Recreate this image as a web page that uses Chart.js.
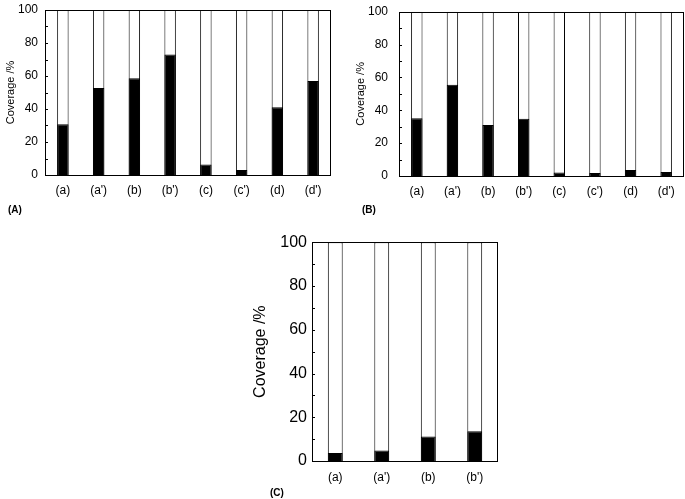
<!DOCTYPE html>
<html lang="en">
<head>
  <meta charset="UTF-8" />
  <title>Coverage</title>
  <script src="https://cdn.jsdelivr.net/npm/chart.js"></script>
  <style>
    body { margin: 0; background: #fff; font-family: Arial, "Liberation Sans", sans-serif; }
    .panel { position: absolute; }
    .tag { position: absolute; font-weight: bold; font-size: 10px; color: #000; }
  </style>
</head>
<body>
<div class="panel" style="left:0;top:0"><canvas id="chartA" width="340" height="205"></canvas></div>
<div class="panel" style="left:350px;top:0"><canvas id="chartB" width="335" height="205"></canvas></div>
<div class="panel" style="left:247px;top:230px"><canvas id="chartC" width="260" height="260"></canvas></div>
<div class="tag" style="left:8px;top:204px">(A)</div>
<div class="tag" style="left:362px;top:204px">(B)</div>
<div class="tag" style="left:270px;top:487px">(C)</div>

<script>
  // data
  const labels8 = ['(a)', "(a')", '(b)', "(b')", '(c)', "(c')", '(d)', "(d')"];
  const labels4 = ['(a)', "(a')", '(b)', "(b')"];
  const coverageA = [30.7, 52.7, 58.6, 73, 6.3, 3, 41, 57];
  const coverageB = [35.1, 55.6, 31, 34.9, 2.2, 1.8, 3.6, 2.4];
  const coverageC = [3.7, 4.8, 11.2, 13.6];
  const full8 = [100, 100, 100, 100, 100, 100, 100, 100];
  const full4 = [100, 100, 100, 100];

  // frame round the plot + small inward ticks on the y axis
  const framePlugin = {
    id: 'frame',
    afterDraw(chart) {
      const ctx = chart.ctx;
      const a = chart.chartArea;
      const y = chart.scales.y;
      ctx.save();
      ctx.strokeStyle = '#000';
      ctx.lineWidth = 1;
      ctx.strokeRect(Math.round(a.left) + 0.5, Math.round(a.top) + 0.5,
        Math.round(a.right - a.left) - 1, Math.round(a.bottom - a.top));
      ctx.beginPath();
      for (let v = 10; v < 100; v += 10) {
        const py = Math.round(y.getPixelForValue(v)) + 0.5;
        ctx.moveTo(a.left, py);
        ctx.lineTo(a.left + 3, py);
      }
      ctx.stroke();
      ctx.restore();
    }
  };

  function makeChart(id, labels, values, full, o) {
    new Chart(document.getElementById(id), {
      type: 'bar',
      data: {
        labels: labels,
        datasets: [
          { data: values, backgroundColor: '#000', borderColor: '#000', borderWidth: 1, order: 0, grouped: false },
          { data: full, backgroundColor: '#fff', borderColor: '#000', borderWidth: 1, order: 1, grouped: false }
        ]
      },
      options: {
        responsive: false,
        animation: false,
        devicePixelRatio: 1,
        barPercentage: 0.32,
        categoryPercentage: 1,
        layout: { padding: o.padding },
        plugins: { legend: { display: false }, tooltip: { enabled: false } },
        scales: {
          x: {
            grid: { display: false, drawTicks: false },
            border: { display: false },
            ticks: { color: '#000', font: { family: 'Arial', size: o.xFont }, padding: o.xPad, maxRotation: 0 },
            afterFit(s) { s.height = o.xHeight; s.paddingLeft = 0; s.paddingRight = 0; }
          },
          y: {
            min: 0, max: 100,
            grid: { display: false, drawTicks: false },
            border: { display: false },
            ticks: { stepSize: 20, color: '#000', font: { family: 'Arial', size: o.yFont }, padding: o.yPad },
            title: { display: true, text: 'Coverage /%', color: '#000', font: { family: 'Arial', size: o.titleFont }, padding: { top: 4, bottom: 4 } },
            afterFit(s) { s.width = o.yWidth; s.paddingTop = 0; s.paddingBottom = 0; }
          }
        }
      },
      plugins: [framePlugin]
    });
  }

  makeChart('chartA', labels8, coverageA, full8,
    { padding: { top: 10, right: 9, bottom: 5, left: 0 }, xHeight: 25, xFont: 12, xPad: 8, yFont: 12, yPad: 7, yWidth: 45, titleFont: 11 });
  makeChart('chartB', labels8, coverageB, full8,
    { padding: { top: 11.7, right: 1, bottom: 4, left: 0 }, xHeight: 25, xFont: 12, xPad: 8, yFont: 12, yPad: 11, yWidth: 49, titleFont: 11 });
  makeChart('chartC', labels4, coverageC, full4,
    { padding: { top: 12.3, right: 9, bottom: 4, left: 0 }, xHeight: 25, xFont: 12, xPad: 9, yFont: 16, yPad: 5, yWidth: 65, titleFont: 16 });
</script>
</body>
</html>
